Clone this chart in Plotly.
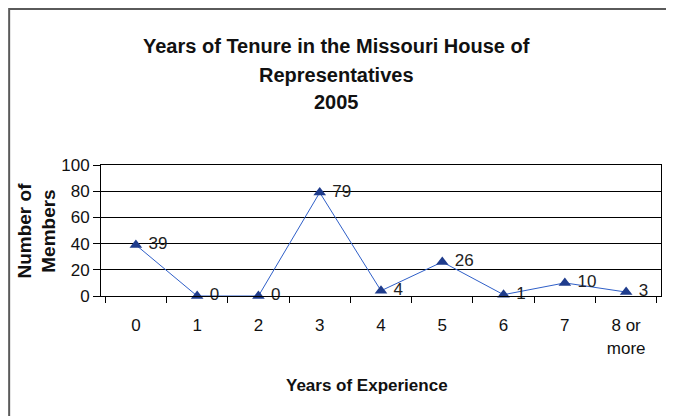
import plotly.graph_objects as go

# ── data ─────────────────────────────────────────────
YEARS = ["0", "1", "2", "3", "4", "5", "6", "7", "8 or<br>more"]
MEMBERS = [39, 0, 0, 79, 4, 26, 1, 10, 3]
Y_TICKS = [0, 20, 40, 60, 80, 100]

TITLE_LINES = ["Years of Tenure in the Missouri House of", "Representatives", "2005"]

FONT = "Liberation Sans, Arial, sans-serif"
LINE_BLUE = "#2F5FC8"
MARKER_BLUE = "#1F3C8C"

fig = go.Figure(go.Scatter(
    x=YEARS,
    y=MEMBERS,
    mode="lines+markers+text",
    line=dict(color=LINE_BLUE, width=1),
    marker=dict(symbol="triangle-up", size=11, color=MARKER_BLUE),
    text=["\u00a0" + str(v) for v in MEMBERS],
    textposition="middle right",
    textfont=dict(size=17, color="#222222", family=FONT),
    cliponaxis=False,
    showlegend=False,
))

# title lines placed one by one (Excel-like loose spacing)
for txt, yp in zip(TITLE_LINES, [1.91, 1.69, 1.48]):
    fig.add_annotation(text=f"<b>{txt}</b>", xref="paper", yref="paper",
                       x=0.4214, y=yp, xanchor="center", yanchor="middle",
                       showarrow=False, font=dict(size=20, color="#111111", family=FONT))

fig.add_annotation(text="<b>Number of<br>Members</b>", xref="paper", yref="paper",
                   x=-0.116, y=0.5, textangle=-90, showarrow=False,
                   xanchor="center", yanchor="middle",
                   font=dict(size=19, color="#111111", family=FONT))

fig.add_annotation(text="<b>Years of Experience</b>", xref="paper", yref="paper",
                   x=0.475, y=-0.68, showarrow=False,
                   xanchor="center", yanchor="middle",
                   font=dict(size=17, color="#111111", family=FONT))

# outer chart border
fig.add_shape(type="rect", xref="paper", yref="paper",
              x0=-0.164, x1=1.018, y0=-0.95, y1=2.19,
              line=dict(color="#5A5A5A", width=2))

# page body has an 8px margin, so the figure is 8px smaller than the window
fig.update_layout(
    width=666, height=408,
    margin=dict(l=93, r=13, t=157, b=120),
    paper_bgcolor="white",
    plot_bgcolor="white",
    font=dict(family=FONT, color="#111111", size=17),
    xaxis=dict(
        type="category",
        tickson="boundaries",
        ticks="outside", ticklen=6, tickcolor="black",
        showline=True, linecolor="black", linewidth=1, mirror=True,
        showgrid=False,
        ticklabelstandoff=14,
        tickfont=dict(size=17),
    ),
    yaxis=dict(
        range=[0, 100],
        tickvals=Y_TICKS,
        ticks="outside", ticklen=7, tickcolor="black",
        showline=True, linecolor="black", linewidth=1, mirror=True,
        showgrid=True, gridcolor="black", gridwidth=1,
        zeroline=False,
        tickfont=dict(size=17),
    ),
)

fig.write_html("out.html")
